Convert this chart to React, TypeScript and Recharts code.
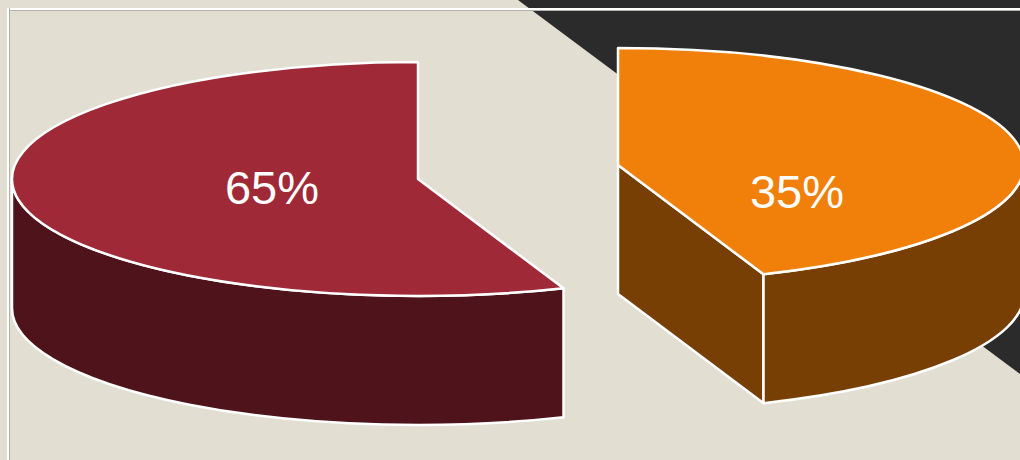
import { Pie, PieChart } from "recharts";

const labels = ["35%", "65%"];
const values = [35, 65];
const topColors = ["#F0800A", "#9F2936"];
const sideColors = ["#773F03", "#4F131B"];

// exploded offset of each slice from the pie centre, and where its label sits
const offsets = [
  { dx: 100, dy: -7 },
  { dx: -100, dy: 7 },
];
const labelSpots = [
  { x: 797, y: 208 },
  { x: 272, y: 204 },
];

const RADIUS = 406;
const SQUASH = 117 / 406;
const DEPTH = 129;
// the perspective of the tilted pie stretches the 35% wedge out to this angle
const TILTED_SPLIT = 159;

const data = labels.map((name, i) => ({
  name,
  value: values[i],
  fill: topColors[i],
  side: sideColors[i],
}));

const tilt = (clockwise: number) => {
  const split = (values[0] / 100) * 360;
  if (clockwise <= split) return (clockwise * TILTED_SPLIT) / split;
  return TILTED_SPLIT + ((clockwise - split) * (360 - TILTED_SPLIT)) / (360 - split);
};

const TiltedSlice = (props: any) => {
  const { cx, cy, outerRadius, startAngle, endAngle, index, fill, side } = props;
  const rx = outerRadius;
  const ry = outerRadius * SQUASH;
  const ox = cx + offsets[index].dx;
  const oy = cy + offsets[index].dy;
  const a = tilt(90 - startAngle);
  const b = tilt(90 - endAngle);

  const pt = (deg: number, drop = 0) => {
    const t = (deg * Math.PI) / 180;
    return `${ox + rx * Math.sin(t)} ${oy - ry * Math.cos(t) + drop}`;
  };
  const arc = (from: number, to: number, drop = 0) => {
    const large = Math.abs(to - from) > 180 ? 1 : 0;
    const sweep = to > from ? 1 : 0;
    return `A ${rx} ${ry} 0 ${large} ${sweep} ${pt(to, drop)}`;
  };

  // only the front half of the rim is visible
  const frontFrom = Math.max(a, 90);
  const frontTo = Math.min(b, 270);
  const rim = `M ${pt(frontFrom)} ${arc(frontFrom, frontTo)} L ${pt(frontTo, DEPTH)} ${arc(frontTo, frontFrom, DEPTH)} Z`;
  const cut = `M ${ox} ${oy} L ${pt(b)} L ${pt(b, DEPTH)} L ${ox} ${oy + DEPTH} Z`;
  const top = `M ${ox} ${oy} L ${pt(a)} ${arc(a, b)} Z`;

  return (
    <g stroke="#FFFFFF" strokeWidth={2.5} strokeLinejoin="round">
      {b < 180 && <path d={cut} fill={side} />}
      <path d={rim} fill={side} />
      <path d={top} fill={fill} />
    </g>
  );
};

const renderLabel = ({ index }: any) => (
  <text
    x={labelSpots[index].x}
    y={labelSpots[index].y}
    textAnchor="middle"
    fill="#FFFFFF"
    fontSize={47}
    fontFamily="Liberation Sans, Arial, sans-serif"
  >
    {labels[index]}
  </text>
);

const App = () => (
  <div style={{ position: "absolute", left: 0, top: 0, width: 1020, height: 460, overflow: "hidden", background: "#E3DED2" }}>
    <div
      style={{
        position: "absolute",
        inset: 0,
        background: "#2B2B2B",
        clipPath: "polygon(518px 0, 1020px 0, 1020px 374px)",
      }}
    />
    <div style={{ position: "absolute", left: 7, top: 8, width: 1013, height: 1.5, background: "#FFFFFF", borderBottom: "1px solid #B5B2A8" }} />
    <div style={{ position: "absolute", left: 7, top: 8, width: 1.5, height: 452, background: "#FFFFFF", borderRight: "1px solid #B5B2A8" }} />
    <div style={{ position: "absolute", left: 0, top: 0 }}>
      <PieChart width={1020} height={460} margin={{ top: 0, right: 0, bottom: 0, left: 0 }}>
        <Pie
          data={data}
          dataKey="value"
          nameKey="name"
          cx={518}
          cy={172}
          outerRadius={RADIUS}
          startAngle={90}
          endAngle={-270}
          shape={TiltedSlice}
          label={renderLabel}
          labelLine={false}
          isAnimationActive={false}
        />
      </PieChart>
    </div>
  </div>
);

export default App;
